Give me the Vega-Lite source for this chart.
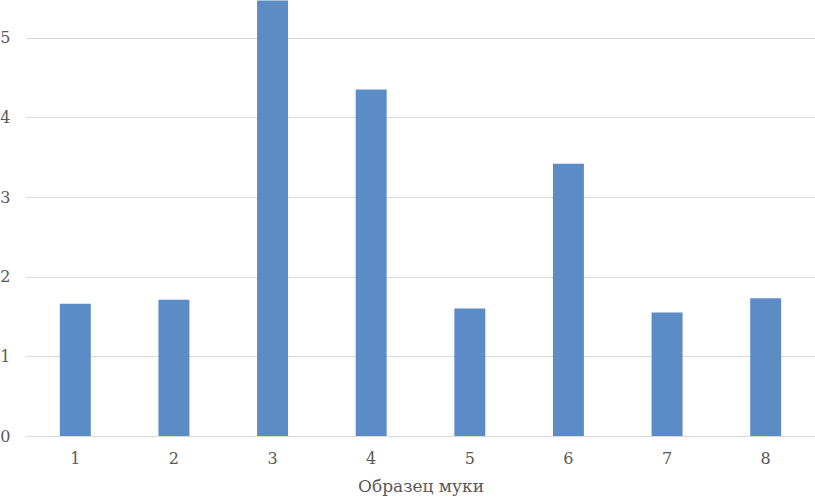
{
  "$schema": "https://vega.github.io/schema/vega-lite/v6.json",
  "width": 789,
  "height": 436,
  "autosize": {"type": "none"},
  "padding": {"left": 26, "top": 0, "right": 0, "bottom": 64},
  "background": "white",
  "data": {"values": [
    {"sample": "1", "value": 1.66},
    {"sample": "2", "value": 1.71},
    {"sample": "3", "value": 5.47},
    {"sample": "4", "value": 4.35},
    {"sample": "5", "value": 1.60},
    {"sample": "6", "value": 3.42},
    {"sample": "7", "value": 1.55},
    {"sample": "8", "value": 1.73}
  ]},
  "mark": {"type": "bar", "color": "#5B8CC6", "clip": true},
  "encoding": {
    "x": {
      "field": "sample", "type": "ordinal", "sort": null,
      "scale": {"paddingInner": 0.686, "paddingOuter": 0.343},
      "axis": {"title": "Образец муки", "labelAngle": 0, "domain": false, "ticks": false,
        "labelFont": "DejaVu Serif", "labelFontSize": 16, "labelColor": "#595959", "labelPadding": 14,
        "titleFont": "DejaVu Serif", "titleFontSize": 17, "titleFontWeight": "normal", "titleColor": "#595959", "titlePadding": 12}
    },
    "y": {
      "field": "value", "type": "quantitative",
      "scale": {"domain": [0, 5.475], "nice": false, "zero": true},
      "axis": {"title": null, "values": [0, 1, 2, 3, 4, 5], "domain": false, "ticks": false,
        "grid": true, "gridColor": "#D9D9D9", "gridWidth": 1,
        "labelFont": "DejaVu Serif", "labelFontSize": 16, "labelColor": "#595959", "labelPadding": 16}
    }
  },
  "config": {"view": {"stroke": null}}
}
